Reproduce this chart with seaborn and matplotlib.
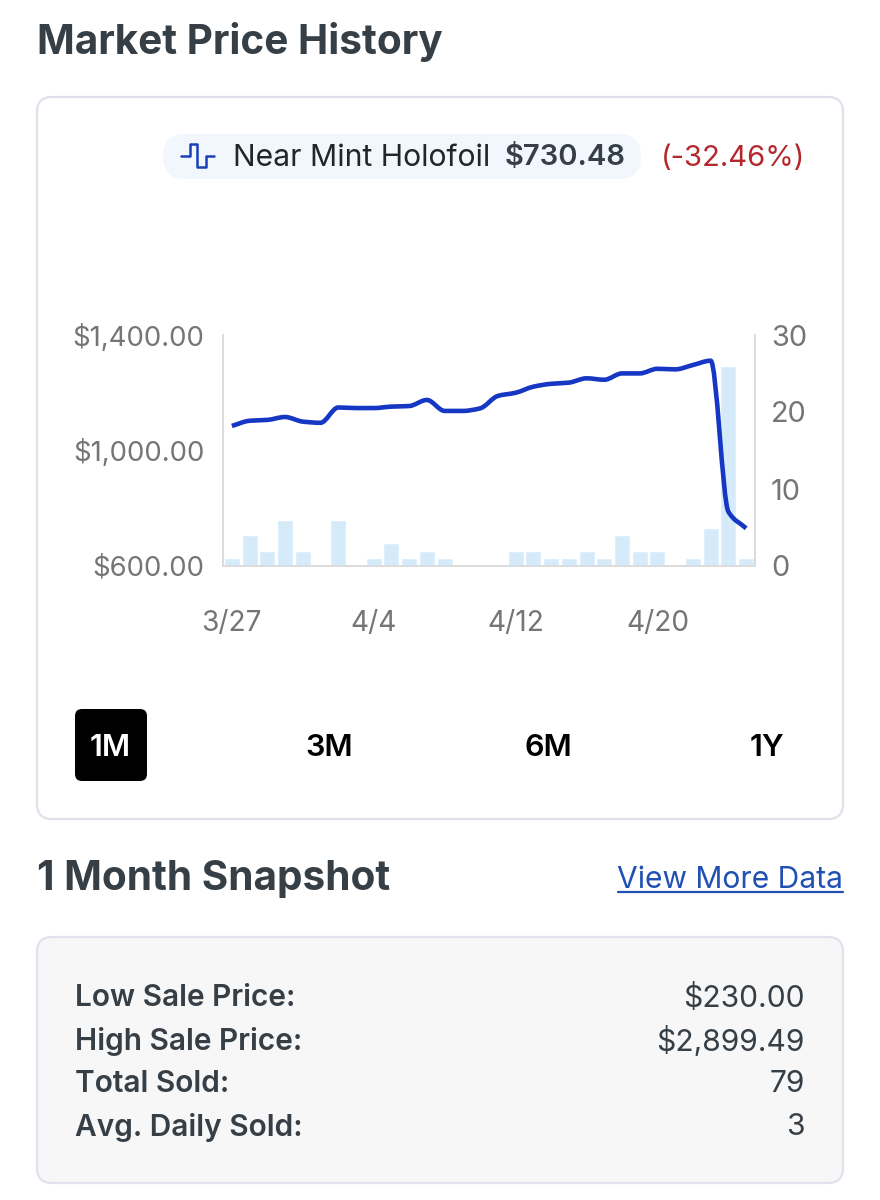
import matplotlib
matplotlib.use("Agg")
import matplotlib.pyplot as plt
from matplotlib.lines import Line2D
from matplotlib.patches import FancyBboxPatch, PathPatch
from matplotlib.path import Path
import pandas as pd
import seaborn as sns

W, H = 880, 1200

# values, one per day from 3/27
days = ["3/27", "3/28", "3/29", "3/30", "3/31", "4/1", "4/2", "4/3", "4/4", "4/5",
        "4/6", "4/7", "4/8", "4/9", "4/10", "4/11", "4/12", "4/13", "4/14", "4/15",
        "4/16", "4/17", "4/18", "4/19", "4/20", "4/21", "4/22", "4/23", "4/24", "4/25"]
price = [1085, 1103, 1106, 1116, 1100, 1096, 1149, 1147, 1147, 1152,
         1154, 1175, 1137, 1137, 1146, 1189, 1200, 1221, 1231, 1235,
         1250, 1245, 1267, 1267, 1283, 1281, 1296, 1311, 788, 730.48]
sold = [1, 4, 2, 6, 2, 0, 6, 0, 1, 3,
        1, 2, 1, 0, 0, 0, 2, 2, 1, 1,
        2, 1, 4, 2, 2, 0, 1, 5, 26, 1]
date_ticks = ["3/27", "4/4", "4/12", "4/20"]
price_ticks = [600, 1000, 1400]
sold_ticks = [0, 10, 20, 30]
ranges = ["1M", "3M", "6M", "1Y"]
stat_names = ["Low Sale Price:", "High Sale Price:", "Total Sold:", "Avg. Daily Sold:"]
stat_values = ["$230.00", "$2,899.49", "79", "3"]

df = pd.DataFrame({"day": days, "price": price, "sold": sold})

sns.set_theme(style="white")
plt.rcParams["font.family"] = ["Inter", "DejaVu Sans"]

DARK = "#363e46"
GREY = "#757575"

fig = plt.figure(figsize=(W / 100, H / 100), dpi=100, facecolor="white")

# page layer in pixel coordinates, everything that is not the chart goes here
page = fig.add_axes([0, 0, 1, 1])
page.set_xlim(0, W)
page.set_ylim(H, 0)
page.axis("off")


def card(x0, y0, x1, y1, r, **kw):
    page.add_patch(FancyBboxPatch((x0 + r, y0 + r), x1 - x0 - 2 * r, y1 - y0 - 2 * r,
                                  boxstyle=f"round,pad={r},rounding_size={r}", **kw))


def monotone_path(xy):
    # same look as the site's curve: bezier segments through the daily values
    xs, ys = xy[:, 0], xy[:, 1]
    s = [(ys[i + 1] - ys[i]) / (xs[i + 1] - xs[i]) for i in range(len(xs) - 1)]
    m = [s[0]]
    for a, b in zip(s[:-1], s[1:]):
        m.append(0 if a * b <= 0 else 2 * a * b / (a + b))
    m.append(s[-1])
    verts = [(xs[0], ys[0])]
    codes = [Path.MOVETO]
    for i in range(len(xs) - 1):
        h = (xs[i + 1] - xs[i]) / 3
        verts += [(xs[i] + h, ys[i] + m[i] * h), (xs[i + 1] - h, ys[i + 1] - m[i + 1] * h),
                  (xs[i + 1], ys[i + 1])]
        codes += [Path.CURVE4] * 3
    return Path(verts, codes)


card(37, 97, 843, 819, 15, fc="white", ec="#dfe2ec", lw=1.6)
card(37, 937, 843, 1183, 15, fc="#f7f7f8", ec="#dfe2ec", lw=1.6)
card(163, 134, 641, 179, 22, fc="#f1f7fd", ec="none")
card(75, 709, 147, 781, 7, fc="black", ec="none")

page.text(37, 42, "Market Price History", fontsize=29.2, fontweight="bold", color=DARK, va="center")
page.text(37, 879, "1 Month Snapshot", fontsize=29.2, fontweight="bold", color=DARK, va="center")
page.text(843, 880, "View More Data", fontsize=21.6, color="#2050b4", va="center", ha="right")
page.add_line(Line2D([618, 843], [892, 892], color="#2050b4", lw=1.6))

# legend pill
page.add_line(Line2D([181, 190, 190, 197, 197, 206, 206, 214],
                     [156, 156, 144, 144, 167, 167, 156, 156], color="#1c3fb8", lw=1.8))
page.text(233, 158, "Near Mint Holofoil", fontsize=21.7, color="#20262b", va="center")
page.text(505, 158, "$730.48", fontsize=21, fontweight="semibold", color=DARK, va="center")
page.text(661, 158, "(-32.46%)", fontsize=21, color="#b3282d", va="center")

# range buttons
for label, x in zip(ranges, [110, 329, 548, 767]):
    page.text(x, 748, label, fontsize=22, fontweight="semibold", ha="center", va="center",
              color="white" if label == "1M" else "black")

# snapshot rows
for name, value, y in zip(stat_names, stat_values, [998, 1041, 1084, 1127]):
    page.text(75, y, name, fontsize=21.5, fontweight="semibold", color=DARK, va="center")
    page.text(805, y, value, fontsize=21.6, color=DARK, va="center", ha="right")

# chart
ax = fig.add_axes([223 / W, 1 - 566 / H, (755 - 223) / W, (566 - 335) / H])
ax2 = ax.twinx()

sns.barplot(data=df, x="day", y="sold", color="#d6ebfa", width=0.9, saturation=1, ax=ax2)
ax.set_zorder(ax2.get_zorder() + 1)
ax.patch.set_visible(False)
sns.lineplot(data=df, x="day", y="price", ax=ax)

# seaborn places the line, the curve is drawn through those same points
base = ax.lines[0]
base.set_visible(False)
ax.add_patch(PathPatch(monotone_path(base.get_xydata()), fc="none", ec="#1636c4", lw=3.3,
                       capstyle="butt", joinstyle="round"))

ax.set_xlim(-0.5, 29.5)
ax.set_ylim(600, 1400)
ax2.set_ylim(0, 30)
ax.set_xticks([days.index(d) for d in date_ticks])
ax.set_xticklabels(date_ticks)
ax.set_yticks(price_ticks)
ax.set_yticklabels([f"${p:,.2f}" for p in price_ticks])
ax2.set_yticks(sold_ticks)
ax.set_xlabel("")
ax.set_ylabel("")
ax2.set_ylabel("")
ax.tick_params(axis="y", length=0, pad=13.5, labelsize=19.8, labelcolor=GREY)
ax.tick_params(axis="x", length=0, pad=31.5, labelsize=20.2, labelcolor=GREY)
ax2.tick_params(axis="y", length=0, pad=11.5, labelsize=20.8, labelcolor=GREY)
for a in (ax, ax2):
    a.spines["top"].set_visible(False)
    for side in ("left", "right", "bottom"):
        a.spines[side].set_color("#dcdcdc")
        a.spines[side].set_linewidth(1.4)

fig.savefig("out.png", dpi=100)
